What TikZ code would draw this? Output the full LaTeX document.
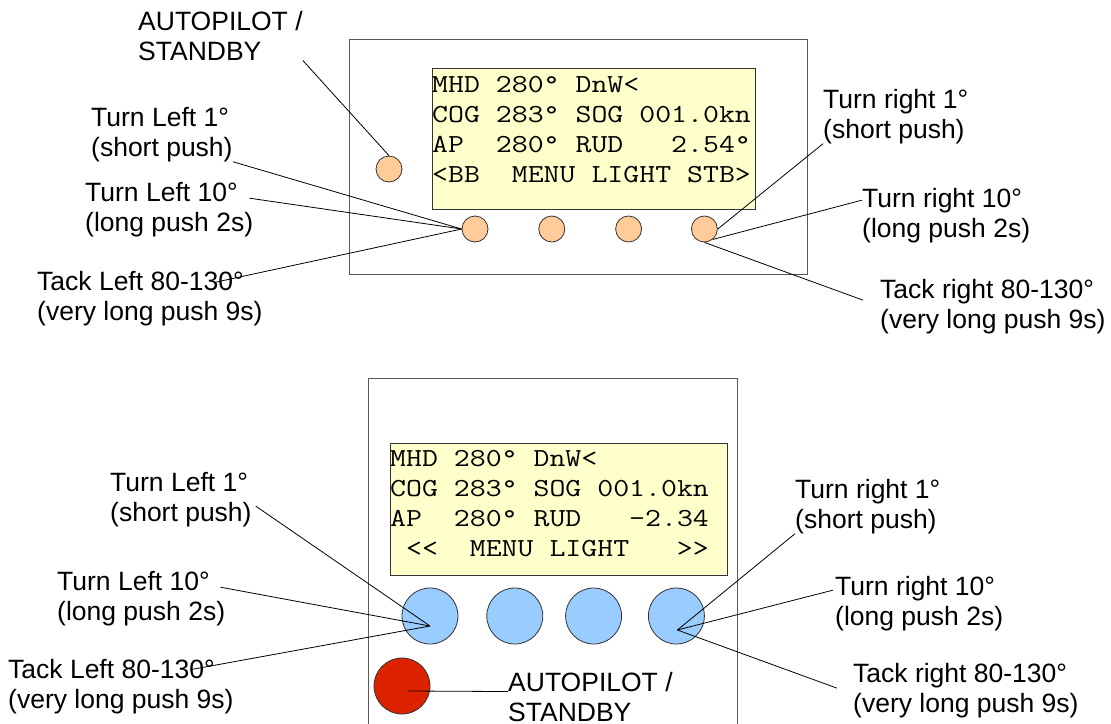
\documentclass[tikz,border=0pt]{standalone}
\usepackage{fontspec}
\setmainfont{Liberation Sans}
\usetikzlibrary{positioning,calc}

\definecolor{keyorange}{HTML}{FFCC99}
\definecolor{keyblue}{HTML}{99CCFF}
\definecolor{keyred}{HTML}{DD2200}
\definecolor{lcdyellow}{HTML}{FFFFCC}

% four lines of the display, typewriter, widened to the panel's pitch
\newcommand{\lcdlines}[4]{\scalebox{1.19}[1]{\begin{tabular}[b]{@{}l@{}}#1\\#2\\#3\\#4\end{tabular}}}

\begin{document}
\begin{tikzpicture}[x=1pt, y=-1pt, inner sep=0pt,
    every node/.style={font=\fontsize{26.5}{30}\selectfont}]
    \tikzstyle{note} = [align=left, anchor=base west]
    \tikzstyle{panel} = [draw=black!65, line width=1pt]
    \tikzstyle{lcd} = [draw=black!80, fill=lcdyellow, line width=1pt, anchor=north west]
    \tikzstyle{lcdtext} = [anchor=base west, font=\ttfamily\fontsize{26}{30}\selectfont]
    \tikzstyle{keyS} = [circle, draw=black!80, fill=keyorange, line width=0.8pt, minimum size=26pt]
    \tikzstyle{keyB} = [circle, draw=black!80, fill=keyblue, line width=0.8pt, minimum size=56pt]
    \tikzstyle{leader} = [line width=0.8pt]

    \useasboundingbox (0,0) rectangle (1111,723);

    % upper unit
    \draw [panel] (349,39) rectangle (807,274);
    \node [lcd, minimum width=323pt, minimum height=141pt] (lcdT) at (432,68) {};
    \node [lcdtext] (txtT) at (432,182) {\lcdlines{MHD~280°~DnW<}{COG~283°~SOG~001.0kn}{AP~~280°~RUD~~~2.54°}{<BB~~MENU~LIGHT~STB>}};

    \node [keyS] (ap) at (389,169) {};
    \node [keyS] (b1) at (475,229) {};
    \node [keyS, right=50pt of b1] (b2) {};
    \node [keyS, right=50pt of b2] (b3) {};
    \node [keyS, right=49pt of b3] (b4) {};

    \node [note] (apT) at (138,60) {AUTOPILOT /\\STANDBY};
    \node [note] (tl1) at (91,156) {Turn Left 1°\\(short push)};
    \node [note] (tl10) at (85,231) {Turn Left 10°\\(long push 2s)};
    \node [note] (tlt) at (37,320) {Tack Left 80-130°\\(very long push 9s)};
    \node [note] (tr1) at (823,138) {Turn right 1°\\(short push)};
    \node [note] (tr10) at (862,237) {Turn right 10°\\(long push 2s)};
    \node [note] (trt) at (880,328) {Tack right 80-130°\\(very long push 9s)};

    \draw [leader] (apT.south east) -- (ap.north);
    \draw [leader] (tl1.south east) -- (b1.west);
    \draw [leader] ($(tl10.east)+(-4,-11)$) -- (b1.west);
    \draw [leader] ($(tlt.north east)+(-49,12)$) -- (b1.west);
    \draw [leader] (tr1.south west) -- (b4.east);
    \draw [leader] ($(tr10.west)+(0,-15)$) -- (b4.-51);
    \draw [leader] ($(trt.west)+(-17,-6)$) -- (b4.south);

    % lower unit
    \draw [panel] (368,740) |- (737,378) -- (737,740);
    \node [lcd, minimum width=337pt, minimum height=132pt] (lcdB) at (390,443) {};
    \node [lcdtext] (txtB) at (390,556) {\lcdlines{MHD~280°~DnW<}{COG~283°~SOG~001.0kn}{AP~~280°~RUD~~~-2.34}{~<<~~MENU~LIGHT~~~>>}};

    \node [keyB] (c1) at (430,616) {};
    \node [keyB, right=28pt of c1] (c2) {};
    \node [keyB, right=22pt of c2] (c3) {};
    \node [keyB, right=26pt of c3] (c4) {};
    \node [keyB, fill=keyred] (apR) at (402,686) {};

    \coordinate (pL) at ($(c1.center)+(0,10)$);
    \coordinate (pR) at ($(c4.center)+(1,14)$);

    \node [note] (bl1) at (110,521) {Turn Left 1°\\(short push)};
    \node [note] (bl10) at (57,620) {Turn Left 10°\\(long push 2s)};
    \node [note] (blt) at (8,708) {Tack Left 80-130°\\(very long push 9s)};
    \node [note] (br1) at (795,528) {Turn right 1°\\(short push)};
    \node [note] (br10) at (835,625) {Turn right 10°\\(long push 2s)};
    \node [note] (brt) at (853,712) {Tack right 80-130°\\(very long push 9s)};
    \node [note] (apB) at (508,721) {AUTOPILOT /\\STANDBY};

    \draw [leader] ($(bl1.east)+(4,7)$) -- (pL);
    \draw [leader] ($(bl10.east)+(-5,-11)$) -- (pL);
    \draw [leader] ($(blt.north east)+(-43,11)$) -- (pL);
    \draw [leader] (br1.south west) -- (pR);
    \draw [leader] ($(br10.west)+(-2,-13)$) -- (pR);
    \draw [leader] ($(brt.west)+(-16,-2)$) -- (pR);
    \draw [leader] ($(apR.center)+(6,5)$) -- ($(apB.west)+(0,-5)$);
\end{tikzpicture}
\end{document}
